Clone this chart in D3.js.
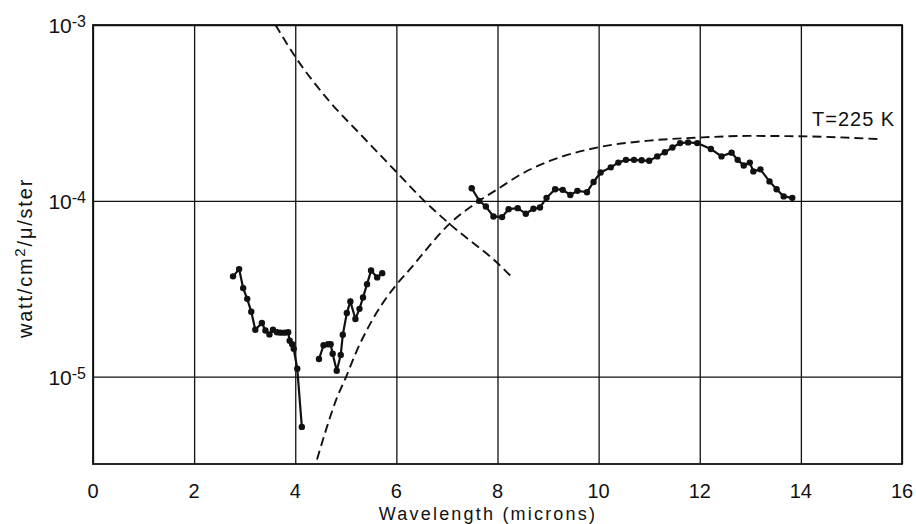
<!DOCTYPE html>
<html>
<head>
<meta charset="utf-8">
<script src="https://cdn.jsdelivr.net/npm/d3@7"></script>
<style>
  html, body { margin: 0; padding: 0; background: #fff; }
  svg { display: block; font-family: "Liberation Sans", Arial, sans-serif; }
</style>
</head>
<body>
<svg id="chart" width="916" height="524"></svg>
<script>
// ---- data ----
const xTicks = [0, 2, 4, 6, 8, 10, 12, 14, 16];
const yTicks = [1e-5, 1e-4, 1e-3];
const yTickExp = ["-5", "-4", "-3"];

// measured spectrum, segment 1
const seg1X = [2.77,2.89,2.97,3.05,3.13,3.21,3.34,3.41,3.49,3.56,3.64,3.71,3.79,3.86,3.89,3.94,3.97,4.04,4.13];
const seg1Y = [3.72e-5,4.09e-5,3.19e-5,2.77e-5,2.34e-5,1.85e-5,2.02e-5,1.83e-5,1.74e-5,1.85e-5,1.79e-5,1.78e-5,1.78e-5,1.79e-5,1.60e-5,1.53e-5,1.44e-5,1.11e-5,5.18e-6];
// segment 2
const seg2X = [4.47,4.56,4.65,4.70,4.74,4.82,4.90,4.94,5.02,5.09,5.19,5.27,5.34,5.42,5.50,5.62,5.72];
const seg2Y = [1.26e-5,1.51e-5,1.53e-5,1.53e-5,1.35e-5,1.08e-5,1.33e-5,1.73e-5,2.30e-5,2.68e-5,2.13e-5,2.43e-5,2.82e-5,3.36e-5,4.02e-5,3.67e-5,3.88e-5];
// segment 3
const seg3X = [7.49,7.64,7.77,7.92,8.09,8.22,8.40,8.56,8.71,8.84,8.97,9.14,9.29,9.44,9.58,9.77,9.90,10.04,10.24,10.39,10.54,10.70,10.85,11.00,11.16,11.31,11.46,11.61,11.77,11.95,12.22,12.43,12.63,12.75,12.87,12.99,13.06,13.20,13.38,13.52,13.66,13.83];
const seg3Y = [1.18e-4,1.00e-4,9.29e-5,8.15e-5,8.08e-5,8.97e-5,9.09e-5,8.44e-5,9.01e-5,9.17e-5,1.04e-4,1.165e-4,1.155e-4,1.08e-4,1.14e-4,1.12e-4,1.28e-4,1.45e-4,1.55e-4,1.65e-4,1.71e-4,1.71e-4,1.70e-4,1.69e-4,1.79e-4,1.89e-4,2.01e-4,2.13e-4,2.15e-4,2.13e-4,1.97e-4,1.79e-4,1.88e-4,1.71e-4,1.59e-4,1.65e-4,1.47e-4,1.51e-4,1.29e-4,1.165e-4,1.06e-4,1.04e-4];

// dashed curve falling from the top (reflected component)
const curveAX = [3.61,4.00,4.68,5.27,6.02,6.52,7.05,8.02,8.30];
const curveAY = [1.0e-3,6.6e-4,3.67e-4,2.42e-4,1.44e-4,1.02e-4,7.4e-5,4.37e-5,3.64e-5];
// dashed curve T = 225 K
const curveBX = [4.43,4.61,4.81,5.01,5.21,5.47,5.73,6.00,6.26,7.05,7.64,8.00,8.53,9.02,10.01,11.00,11.98,12.97,13.96,15.60];
const curveBY = [3.38e-6,5.0e-6,7.4e-6,1.005e-5,1.39e-5,1.97e-5,2.62e-5,3.33e-5,4.06e-5,7.4e-5,1.00e-4,1.165e-4,1.45e-4,1.68e-4,2.02e-4,2.20e-4,2.29e-4,2.34e-4,2.33e-4,2.24e-4];

const curveLabel = "T=225 K";
const xTitle = "Wavelength (microns)";

// ---- layout ----
const L = 93, R = 902, T = 25, B = 464;
const svg = d3.select("#chart");
const x = d3.scaleLinear().domain([0, 16]).range([L, R]);
const y = d3.scaleLog().domain([Math.pow(10, -5.4966), 1e-3]).range([B, T]);

const ink = "#111";

svg.append("defs").append("clipPath").attr("id", "plotclip")
  .append("rect").attr("x", L).attr("y", T).attr("width", R - L).attr("height", B - T);

// grid via axes
const gx = svg.append("g").attr("transform", `translate(0,${B})`)
  .call(d3.axisBottom(x).tickValues(xTicks).tickSize(-(B - T)).tickFormat(""));
gx.select(".domain").remove();
gx.selectAll("line").attr("stroke", ink).attr("stroke-width", 1.3);

const gy = svg.append("g").attr("transform", `translate(${L},0)`)
  .call(d3.axisLeft(y).tickValues(yTicks).tickSize(-(R - L)).tickFormat(""));
gy.select(".domain").remove();
gy.selectAll("line").attr("stroke", ink).attr("stroke-width", 1.3);

// frame
svg.append("rect").attr("x", L).attr("y", T).attr("width", R - L).attr("height", B - T)
  .attr("fill", "none").attr("stroke", ink).attr("stroke-width", 1.8);

// x tick labels
svg.append("g").selectAll("text").data(xTicks).join("text")
  .attr("x", d => x(d)).attr("y", 498)
  .attr("text-anchor", "middle").attr("font-size", 20).attr("fill", ink)
  .text(d => d);

// y tick labels with superscript
const yl = svg.append("g").selectAll("text").data(yTicks).join("text")
  .attr("x", 86).attr("y", d => y(d) + 8)
  .attr("text-anchor", "end").attr("fill", ink).attr("font-size", 21);
yl.append("tspan").text("10");
yl.append("tspan").attr("font-size", 16).attr("dy", -6).text((d, i) => yTickExp[i]);

// axis titles
svg.append("text").attr("x", 488).attr("y", 520).attr("text-anchor", "middle")
  .attr("font-size", 18).attr("letter-spacing", 2.2).attr("fill", ink).text(xTitle);

const yt = svg.append("text").attr("transform", "translate(32,258) rotate(-90)")
  .attr("text-anchor", "middle").attr("font-size", 20).attr("letter-spacing", 1.8).attr("fill", ink);
yt.append("tspan").text("watt/cm");
yt.append("tspan").attr("font-size", 15).attr("dy", -7).text("2");
yt.append("tspan").attr("dy", 7).text("/\u03bc/ster");

// curve label
svg.append("text").attr("x", 812).attr("y", 126).attr("font-size", 20).attr("letter-spacing", 1)
  .attr("fill", ink).text(curveLabel);

// dashed curves
const plot = svg.append("g").attr("clip-path", "url(#plotclip)");
const dashLine = d3.line().x(d => x(d[0])).y(d => y(d[1])).curve(d3.curveMonotoneX);
plot.append("path").datum(d3.zip(curveAX, curveAY)).attr("d", dashLine)
  .attr("fill", "none").attr("stroke", ink).attr("stroke-width", 1.9).attr("stroke-dasharray", "9,5");
plot.append("path").datum(d3.zip(curveBX, curveBY)).attr("d", dashLine)
  .attr("fill", "none").attr("stroke", ink).attr("stroke-width", 1.9).attr("stroke-dasharray", "9,5");

// measured segments
const dataLine = d3.line().x(d => x(d[0])).y(d => y(d[1]));
[[seg1X, seg1Y], [seg2X, seg2Y], [seg3X, seg3Y]].forEach(([sx, sy]) => {
  const pts = d3.zip(sx, sy);
  plot.append("path").datum(pts).attr("d", dataLine)
    .attr("fill", "none").attr("stroke", ink).attr("stroke-width", 2.2);
  plot.append("g").selectAll("circle").data(pts).join("circle")
    .attr("cx", d => x(d[0])).attr("cy", d => y(d[1])).attr("r", 3.2).attr("fill", ink);
});
</script>
</body>
</html>
